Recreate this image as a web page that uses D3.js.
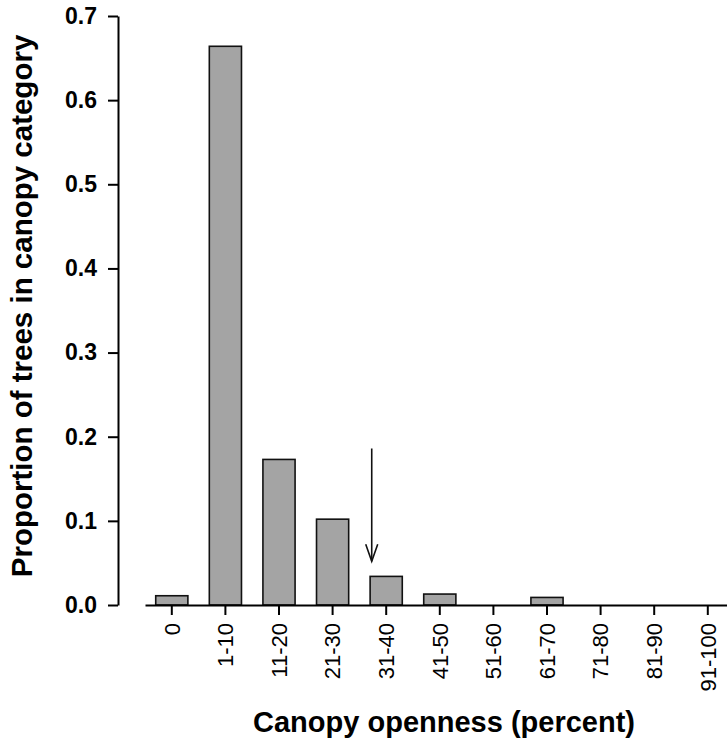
<!DOCTYPE html>
<html>
<head>
<meta charset="utf-8">
<script src="https://cdn.jsdelivr.net/npm/d3@7"></script>
<style>
    body { margin: 0; background: #fff; }
    text { font-family: "Liberation Sans", Arial, Helvetica, sans-serif; }
</style>
</head>
<body>
<script>
// Canopy openness categories and proportion of trees in each
const categories = ["0", "1-10", "11-20", "21-30", "31-40", "41-50", "51-60", "61-70", "71-80", "81-90", "91-100"];
const proportions = [0.011, 0.664, 0.173, 0.102, 0.034, 0.013, 0, 0.009, 0, 0, 0];
const yTicks = [0.0, 0.1, 0.2, 0.3, 0.4, 0.5, 0.6, 0.7];

// arrow annotation (category index position, start and tip values)
const arrowPos = 3.73;
const arrowFrom = 0.186;
const arrowTo = 0.052;

const svgWidth = 727;
const svgHeight = 743;

const plot = {left: 145, right: 734.6, top: 16, bottom: 605}
const yAxisX = 118;

window.onload = main;

function main() {
    const data = categories.map((c, i) => ({cat: c, value: proportions[i]}));

    const svg = d3.select("body")
        .append("svg")
        .attr("width", svgWidth)
        .attr("height", svgHeight);

    const x = d3.scaleBand()
        .domain(categories)
        .range([plot.left, plot.right])
        .paddingInner(0.4)
        .paddingOuter(0.2);

    const y = d3.scaleLinear()
        .domain([0, 0.7])
        .range([plot.bottom, plot.top]);

    // bars
    svg.append("g")
        .selectAll("rect")
        .data(data.filter(d => d.value > 0))
        .join("rect")
        .attr("x", d => x(d.cat))
        .attr("y", d => y(d.value))
        .attr("width", x.bandwidth())
        .attr("height", d => y(0) - y(d.value))
        .attr("fill", "#a4a4a4")
        .attr("stroke", "#111")
        .attr("stroke-width", 1.6);

    // y axis
    const yAxis = svg.append("g")
        .attr("transform", `translate(${yAxisX},0)`)
        .call(d3.axisLeft(y).tickValues(yTicks).tickFormat(d3.format(".1f"))
            .tickSize(10).tickSizeOuter(0).tickPadding(11));
    yAxis.select(".domain").attr("stroke-width", 2);
    yAxis.selectAll(".tick line").attr("stroke-width", 2);
    yAxis.selectAll(".tick text")
        .attr("fill", "#000")
        .style("font-size", "23px")
        .style("font-weight", "bold")
        .style("font-family", '"Liberation Sans", Arial, sans-serif');

    // x axis
    const xAxis = svg.append("g")
        .attr("transform", `translate(0,${plot.bottom})`)
        .call(d3.axisBottom(x).tickSize(10).tickSizeOuter(0));
    xAxis.select(".domain").attr("stroke-width", 2);
    xAxis.selectAll(".tick line").attr("stroke-width", 2);
    xAxis.selectAll(".tick text")
        .attr("fill", "#000")
        .attr("x", -18)
        .attr("y", 0)
        .attr("dy", "0.35em")
        .attr("transform", "rotate(-90)")
        .style("text-anchor", "end")
        .style("font-size", "22px")
        .style("font-family", '"Liberation Sans", Arial, sans-serif');

    // arrow
    const step = x.step();
    const ax = x(categories[0]) + x.bandwidth() / 2 + arrowPos * step;
    const arrowG = svg.append("g")
        .attr("stroke", "#111")
        .attr("stroke-width", 1.6)
        .attr("fill", "none");
    arrowG.append("line")
        .attr("x1", ax).attr("x2", ax)
        .attr("y1", y(arrowFrom)).attr("y2", y(arrowTo));
    arrowG.append("path")
        .attr("d", `M${ax - 6},${y(arrowTo) - 17} L${ax},${y(arrowTo)} L${ax + 6},${y(arrowTo) - 17}`);

    // axis titles
    svg.append("text")
        .attr("x", 444)
        .attr("y", 732)
        .attr("text-anchor", "middle")
        .style("font-size", "29px")
        .style("font-weight", "bold")
        .text("Canopy openness (percent)");

    svg.append("text")
        .attr("transform", "translate(31.5,306) rotate(-90)")
        .attr("text-anchor", "middle")
        .style("font-size", "29.5px")
        .style("font-weight", "bold")
        .text("Proportion of trees in canopy category");
}
</script>
</body>
</html>
